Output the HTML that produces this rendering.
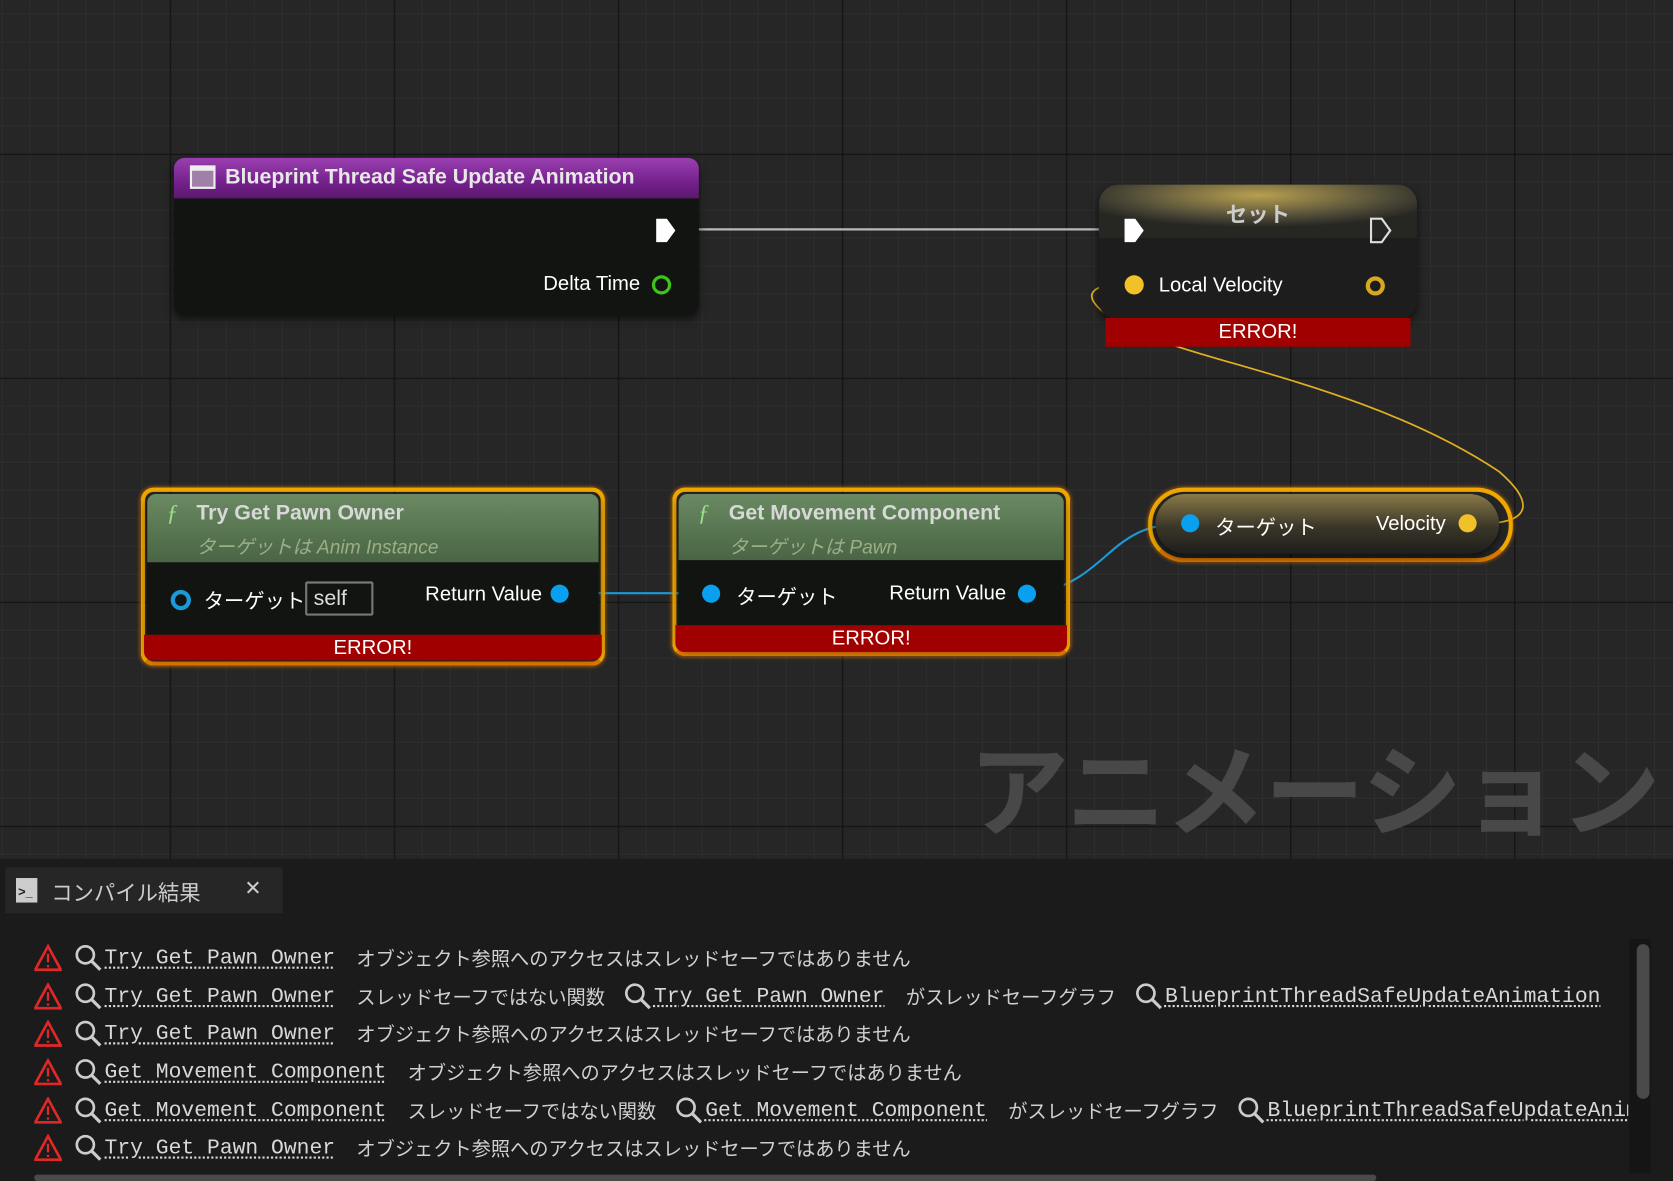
<!DOCTYPE html>
<html><head><meta charset="utf-8">
<style>
html,body{margin:0;padding:0;width:1673px;height:1181px;overflow:hidden;background:#262626;}
#w{position:absolute;left:0;top:0;width:1568px;height:1107px;overflow:hidden;transform-origin:0 0;transform:scale(1.06696,1.06685);
font-family:"Liberation Sans","Noto Sans CJK JP",sans-serif;color:#fff;
background-color:#262626;
background-image:
linear-gradient(#161616 1.5px,transparent 1.5px),linear-gradient(90deg,#161616 1.5px,transparent 1.5px),
linear-gradient(#2e2e2e 1px,transparent 1px),linear-gradient(90deg,#2e2e2e 1px,transparent 1px);
background-size:210px 210px,210px 210px,26.25px 26.25px,26.25px 26.25px;
background-position:0 144px,159px 0,0 144px,159px 0;}
.a{position:absolute;}
.node{position:absolute;background:#121412;border-radius:10px;box-shadow:0 4px 8px rgba(0,0,0,.6);}
.t{position:absolute;white-space:nowrap;font-size:19px;}
.err{position:absolute;background:#a00000;color:#fff;text-align:center;font-size:19px;}
.orange{position:absolute;border:4px solid #f0a800;border-radius:12px;box-shadow:0 0 4px #d07000;border-bottom-color:#e07a00;}
.green{background:linear-gradient(180deg,#6a8a64 0%,#56744f 60%,#4a6545 100%);}
.pin{position:absolute;border-radius:50%;}
.row{position:absolute;left:32px;height:30px;font-size:18px;white-space:nowrap;display:flex;align-items:center;overflow:hidden;}
.row svg{flex-shrink:0;}
.row span{flex-shrink:0;}
.mono{font-family:"Liberation Mono",monospace;font-size:20px;color:#d8d8d8;text-decoration:underline;text-decoration-style:dotted;text-underline-offset:4px;}
.jp{color:#d0d0d0;margin:0 18px 0 20px;font-size:18px;}
.tri{width:26px;height:26px;margin-right:12px;}
.mag{width:26px;height:26px;margin-right:2px;}
</style></head><body><div id="w">

<svg class="a" style="left:0;top:0" width="1568" height="1107">
<line x1="633" y1="215" x2="1052" y2="215" stroke="#bbb" stroke-width="2"/>
<line x1="540" y1="556" x2="655" y2="556" stroke="#1a9ad8" stroke-width="2"/>
<path d="M975 556 C1040 540 1040 492 1106 491" stroke="#1a9ad8" stroke-width="2" fill="none"/>
<path d="M1388 491 C1440 490 1435 468 1405 442 C1300 372 1160 345 1095 322 C1030 300 995 268 1052 266" stroke="#e0b020" stroke-width="1.6" fill="none"/>
</svg>

<!-- Blueprint node -->
<div class="node" style="left:163px;top:148px;width:492px;height:147px;">
 <div class="a" style="left:0;top:0;width:492px;height:38px;border-radius:10px 10px 0 0;background:linear-gradient(180deg,#9a3fb0,#6e1d86 70%,#5a1a6a);"></div>
 <div class="a" style="left:15px;top:7px;width:24px;height:22px;background:#a080a8;border:2px solid #eee;border-top-width:5px;box-sizing:border-box;"></div>
 <div class="t" style="left:48px;top:7px;font-weight:bold;font-size:20px;color:#e8e8e8;">Blueprint Thread Safe Update Animation</div>
 <svg class="a" style="left:450px;top:55px" width="22" height="26"><path d="M2 2 H12 L20 13 L12 24 H2 Z" fill="#fff"/></svg>
 <div class="t" style="right:55px;top:108px;">Delta Time</div>
 <div class="pin" style="left:448px;top:110px;width:12px;height:12px;border:3px solid #3fc41a;"></div>
</div>

<!-- Set node -->
<div class="node" style="left:1030px;top:173px;width:298px;height:127px;border-radius:18px;background:#1c1d1c;">
 <div class="a" style="left:0;top:0;width:298px;height:50px;border-radius:18px 18px 0 0;background:radial-gradient(ellipse 60% 60% at 50% 20%,#b8a050,#4e4a38 70%,#262623);"></div>
 <div class="t" style="left:0;width:298px;text-align:center;top:12px;font-weight:bold;color:#ccc;font-size:20px;">セット</div>
 <svg class="a" style="left:22px;top:30px" width="22" height="26"><path d="M2 2 H12 L20 13 L12 24 H2 Z" fill="#fff"/></svg>
 <svg class="a" style="left:253px;top:30px" width="22" height="26"><path d="M2 2 H12 L20 13 L12 24 H2 Z" fill="none" stroke="#ddd" stroke-width="2"/></svg>
 <div class="pin" style="left:24px;top:85px;width:18px;height:18px;background:#f2c12a;"></div>
 <div class="t" style="left:56px;top:84px;">Local Velocity</div>
 <div class="pin" style="left:250px;top:86px;width:10px;height:10px;border:4px solid #d8a820;"></div>
</div>
<div class="err" style="left:1036px;top:298px;width:286px;height:27px;line-height:28px;">ERROR!</div>

<!-- Try Get Pawn Owner -->
<div class="orange" style="left:132px;top:457px;width:427px;height:159px;"></div>
<div class="node" style="left:138px;top:463px;width:423px;height:150px;border-radius:8px;">
 <div class="a green" style="left:0;top:0;width:423px;height:64px;border-radius:8px 8px 0 0;"></div>
 <div class="t" style="left:18px;top:5px;color:#9de08a;font-style:italic;font-size:22px;font-family:'Liberation Serif',serif;">ƒ</div>
 <div class="t" style="left:46px;top:7px;font-weight:bold;color:#d8d8d8;font-size:20px;">Try Get Pawn Owner</div>
 <div class="t" style="left:46px;top:36px;color:#9cae88;font-style:italic;font-size:18px;">ターゲットは Anim Instance</div>
 <div class="pin" style="left:22px;top:90px;width:11px;height:11px;border:4px solid #1a9ad8;"></div>
 <div class="t" style="left:53px;top:86px;">ターゲット</div>
 <div class="a" style="left:148px;top:82px;border:2px solid #777;border-radius:2px;color:#ddd;font-size:20px;line-height:28px;padding-left:6px;box-sizing:border-box;width:64px;height:32px;">self</div>
 <div class="t" style="right:53px;top:84px;">Return Value</div>
 <div class="pin" style="left:378px;top:85px;width:17px;height:17px;background:#0aa0f0;"></div>
</div>
<div class="err" style="left:135px;top:595px;width:429px;height:24px;line-height:25px;border-radius:0 0 8px 8px;">ERROR!</div>

<!-- Get Movement Component -->
<div class="orange" style="left:630px;top:457px;width:365px;height:150px;"></div>
<div class="node" style="left:636px;top:463px;width:361px;height:142px;border-radius:8px;">
 <div class="a green" style="left:0;top:0;width:361px;height:62px;border-radius:8px 8px 0 0;"></div>
 <div class="t" style="left:18px;top:5px;color:#9de08a;font-style:italic;font-size:22px;font-family:'Liberation Serif',serif;">ƒ</div>
 <div class="t" style="left:47px;top:7px;font-weight:bold;color:#d8d8d8;font-size:20px;">Get Movement Component</div>
 <div class="t" style="left:47px;top:36px;color:#9cae88;font-style:italic;font-size:18px;">ターゲットは Pawn</div>
 <div class="pin" style="left:22px;top:85px;width:17px;height:17px;background:#0aa0f0;"></div>
 <div class="t" style="left:54px;top:82px;">ターゲット</div>
 <div class="t" style="right:54px;top:83px;">Return Value</div>
 <div class="pin" style="left:318px;top:85px;width:17px;height:17px;background:#0aa0f0;"></div>
</div>
<div class="err" style="left:633px;top:586px;width:367px;height:25px;line-height:26px;border-radius:0 0 8px 8px;">ERROR!</div>

<!-- Velocity node -->
<div class="orange" style="left:1076px;top:457px;width:334px;height:62px;border-radius:34px;"></div>
<div class="node" style="left:1083px;top:463px;width:322px;height:56px;border-radius:30px;background:linear-gradient(180deg,#8a7a48 0%,#3a3628 55%,#1e1e1c 100%);">
 <div class="pin" style="left:24px;top:19px;width:17px;height:17px;background:#0aa0f0;"></div>
 <div class="t" style="left:56px;top:17px;">ターゲット</div>
 <div class="t" style="right:50px;top:18px;">Velocity</div>
 <div class="pin" style="left:284px;top:19px;width:17px;height:17px;background:#f2c12a;"></div>
</div>

<!-- Watermark -->
<div class="t" style="left:908px;top:668px;font-size:94px;font-weight:bold;color:#484848;letter-spacing:-1px;">アニメーション</div>

<!-- Bottom panel -->
<div class="a" style="left:0;top:805px;width:1568px;height:302px;background:#1b1b1b;"></div>
<div class="a" style="left:5px;top:813px;width:260px;height:43px;background:#262626;border-radius:3px 3px 0 0;"></div>
<div class="a" style="left:15px;top:823px;width:20px;height:23px;background:#ccc;"></div>
<div class="t" style="left:17px;top:829px;font-size:12px;color:#222;font-weight:bold;">&gt;_</div>
<div class="t" style="left:48px;top:821px;font-size:20px;color:#ccc;">コンパイル結果</div>
<div class="t" style="left:229px;top:822px;font-size:19px;color:#ccc;">✕</div>

<div class="row" style="top:883px;"><svg class="tri" viewBox="0 0 26 26"><path d="M13 2 L25 24 H1 Z" fill="none" stroke="#e02828" stroke-width="2.5"/><path d="M13 9 V17 M13 19.5 V21.5" stroke="#e02828" stroke-width="2.2"/></svg><svg class="mag" viewBox="0 0 26 26"><circle cx="10" cy="10" r="8" fill="none" stroke="#ccc" stroke-width="2.5"/><path d="M16 16 L24 24" stroke="#ccc" stroke-width="3"/></svg><span class="mono">Try Get Pawn Owner</span><span class="jp">オブジェクト参照へのアクセスはスレッドセーフではありません</span></div>
<div class="row" style="top:919px;width:1494px;"><svg class="tri" viewBox="0 0 26 26"><path d="M13 2 L25 24 H1 Z" fill="none" stroke="#e02828" stroke-width="2.5"/><path d="M13 9 V17 M13 19.5 V21.5" stroke="#e02828" stroke-width="2.2"/></svg><svg class="mag" viewBox="0 0 26 26"><circle cx="10" cy="10" r="8" fill="none" stroke="#ccc" stroke-width="2.5"/><path d="M16 16 L24 24" stroke="#ccc" stroke-width="3"/></svg><span class="mono">Try Get Pawn Owner</span><span class="jp">スレッドセーフではない関数</span><svg class="mag" viewBox="0 0 26 26"><circle cx="10" cy="10" r="8" fill="none" stroke="#ccc" stroke-width="2.5"/><path d="M16 16 L24 24" stroke="#ccc" stroke-width="3"/></svg><span class="mono">Try Get Pawn Owner</span><span class="jp">がスレッドセーフグラフ</span><svg class="mag" viewBox="0 0 26 26"><circle cx="10" cy="10" r="8" fill="none" stroke="#ccc" stroke-width="2.5"/><path d="M16 16 L24 24" stroke="#ccc" stroke-width="3"/></svg><span class="mono">BlueprintThreadSafeUpdateAnimation</span></div>
<div class="row" style="top:954px;"><svg class="tri" viewBox="0 0 26 26"><path d="M13 2 L25 24 H1 Z" fill="none" stroke="#e02828" stroke-width="2.5"/><path d="M13 9 V17 M13 19.5 V21.5" stroke="#e02828" stroke-width="2.2"/></svg><svg class="mag" viewBox="0 0 26 26"><circle cx="10" cy="10" r="8" fill="none" stroke="#ccc" stroke-width="2.5"/><path d="M16 16 L24 24" stroke="#ccc" stroke-width="3"/></svg><span class="mono">Try Get Pawn Owner</span><span class="jp">オブジェクト参照へのアクセスはスレッドセーフではありません</span></div>
<div class="row" style="top:990px;"><svg class="tri" viewBox="0 0 26 26"><path d="M13 2 L25 24 H1 Z" fill="none" stroke="#e02828" stroke-width="2.5"/><path d="M13 9 V17 M13 19.5 V21.5" stroke="#e02828" stroke-width="2.2"/></svg><svg class="mag" viewBox="0 0 26 26"><circle cx="10" cy="10" r="8" fill="none" stroke="#ccc" stroke-width="2.5"/><path d="M16 16 L24 24" stroke="#ccc" stroke-width="3"/></svg><span class="mono">Get Movement Component</span><span class="jp">オブジェクト参照へのアクセスはスレッドセーフではありません</span></div>
<div class="row" style="top:1026px;width:1494px;"><svg class="tri" viewBox="0 0 26 26"><path d="M13 2 L25 24 H1 Z" fill="none" stroke="#e02828" stroke-width="2.5"/><path d="M13 9 V17 M13 19.5 V21.5" stroke="#e02828" stroke-width="2.2"/></svg><svg class="mag" viewBox="0 0 26 26"><circle cx="10" cy="10" r="8" fill="none" stroke="#ccc" stroke-width="2.5"/><path d="M16 16 L24 24" stroke="#ccc" stroke-width="3"/></svg><span class="mono">Get Movement Component</span><span class="jp">スレッドセーフではない関数</span><svg class="mag" viewBox="0 0 26 26"><circle cx="10" cy="10" r="8" fill="none" stroke="#ccc" stroke-width="2.5"/><path d="M16 16 L24 24" stroke="#ccc" stroke-width="3"/></svg><span class="mono">Get Movement Component</span><span class="jp">がスレッドセーフグラフ</span><svg class="mag" viewBox="0 0 26 26"><circle cx="10" cy="10" r="8" fill="none" stroke="#ccc" stroke-width="2.5"/><path d="M16 16 L24 24" stroke="#ccc" stroke-width="3"/></svg><span class="mono">BlueprintThreadSafeUpdateAnimation</span></div>
<div class="row" style="top:1061px;"><svg class="tri" viewBox="0 0 26 26"><path d="M13 2 L25 24 H1 Z" fill="none" stroke="#e02828" stroke-width="2.5"/><path d="M13 9 V17 M13 19.5 V21.5" stroke="#e02828" stroke-width="2.2"/></svg><svg class="mag" viewBox="0 0 26 26"><circle cx="10" cy="10" r="8" fill="none" stroke="#ccc" stroke-width="2.5"/><path d="M16 16 L24 24" stroke="#ccc" stroke-width="3"/></svg><span class="mono">Try Get Pawn Owner</span><span class="jp">オブジェクト参照へのアクセスはスレッドセーフではありません</span></div>

<div class="a" style="left:1527px;top:880px;width:20px;height:220px;background:#151515;"></div>
<div class="a" style="left:1534px;top:885px;width:12px;height:145px;background:#4a4a4a;border-radius:6px;"></div>
<div class="a" style="left:32px;top:1101px;width:1258px;height:6px;background:#4a4a4a;border-radius:3px;"></div>
</div></body></html>
